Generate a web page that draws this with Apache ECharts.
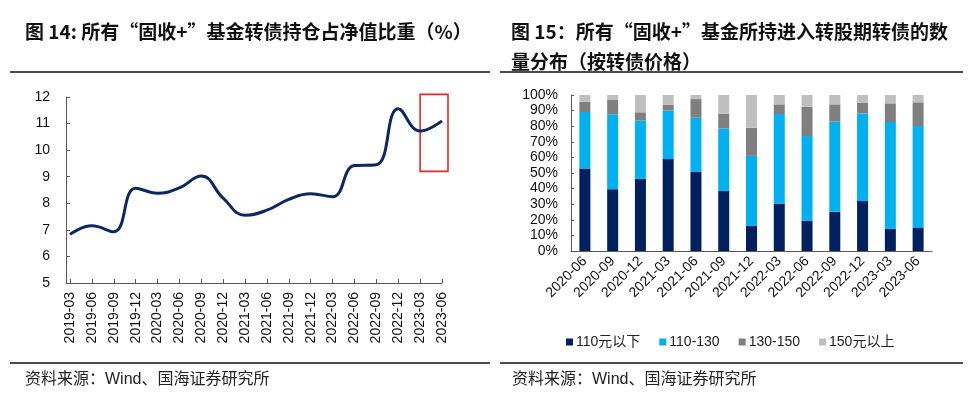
<!DOCTYPE html>
<html>
<head>
<meta charset="utf-8">
<script src="https://cdn.jsdelivr.net/npm/echarts@6/dist/echarts.min.js"></script>
<style>
html,body{margin:0;padding:0;background:#fff;}
#c{width:974px;height:399px;}
</style>
</head>
<body>
<div id="c"></div>
<script>
// ---- Data: Figure 14 ----
const lineCategories = ['2019-03','2019-06','2019-09','2019-12','2020-03','2020-06','2020-09','2020-12','2021-03','2021-06','2021-09','2021-12','2022-03','2022-06','2022-09','2022-12','2023-03','2023-06'];
const lineValues = [6.83, 7.15, 6.93, 8.57, 8.38, 8.58, 9.03, 8.19, 7.55, 7.74, 8.15, 8.36, 8.25, 9.42, 9.45, 11.56, 10.72, 11.1];
const lineYTicks = [5, 6, 7, 8, 9, 10, 11, 12];

// ---- Data: Figure 15 ----
const barCategories = ['2020-06','2020-09','2020-12','2021-03','2021-06','2021-09','2021-12','2022-03','2022-06','2022-09','2022-12','2023-03','2023-06'];
const seriesNames = ['110元以下', '110-130', '130-150', '150元以上'];
const below110 = [52.9, 39.6, 46.3, 58.9, 50.7, 38.5, 16.1, 30.4, 19.5, 25.1, 32.1, 14.3, 14.8];
const r110to130 = [36.2, 48.0, 37.4, 31.2, 34.7, 40.1, 44.9, 57.4, 54.2, 57.8, 56.1, 68.4, 65.3];
const r130to150 = [6.6, 9.2, 5.2, 3.7, 12.0, 9.4, 18.0, 6.2, 18.8, 11.1, 6.9, 11.9, 15.2];
const above150 = [4.3, 3.2, 11.1, 6.2, 2.6, 12.0, 21.0, 6.0, 7.5, 6.0, 4.9, 5.4, 4.7];

const FONT = '"Liberation Sans", Arial, "Noto Sans CJK SC", sans-serif';
const MIXED = '"Liberation Sans", "Noto Sans CJK SC", sans-serif';
const CJK = '"Noto Sans CJK SC", "Liberation Sans", sans-serif';
const axisColor = '#595959';
const barColors = ['#002060', '#00b0f0', '#7f7f7f', '#bfbfbf'];

const chart = echarts.init(document.getElementById('c'), null, {renderer: 'canvas'});

const option = {
  animation: false,
  backgroundColor: '#fff',
  title: [
    {text: '图 14: 所有“固收+”基金转债持仓占净值比重（%）', left: 20, top: 17,
     textStyle: {fontFamily: CJK, fontSize: 19, fontWeight: 'bold', color: '#111'}},
    {text: '图 15：所有“固收+”基金所持进入转股期转债的数\n量分布（按转债价格）', left: 506, top: 12,
     textStyle: {fontFamily: CJK, fontSize: 19, fontWeight: 'bold', color: '#111', lineHeight: 30}},
    {text: '资料来源：Wind、国海证券研究所', left: 20, top: 367,
     textStyle: {fontFamily: MIXED, fontSize: 16, fontWeight: 'normal', color: '#222'}},
    {text: '资料来源：Wind、国海证券研究所', left: 507, top: 367,
     textStyle: {fontFamily: MIXED, fontSize: 16, fontWeight: 'normal', color: '#222'}}
  ],
  legend: {
    data: seriesNames,
    left: 561, top: 330,
    icon: 'rect', itemWidth: 7, itemHeight: 7, itemGap: 19,
    textStyle: {fontFamily: MIXED, fontSize: 14, color: '#222', padding: [0, 0, 0, -2]}
  },
  grid: [
    {left: 70, right: 974 - 442, top: 97, bottom: 399 - 283, containLabel: false},
    {left: 571, right: 974 - 932, top: 95, bottom: 399 - 251, containLabel: false}
  ],
  xAxis: [
    {type: 'category', gridIndex: 0, data: lineCategories, boundaryGap: false,
     axisLine: {lineStyle: {color: axisColor, width: 1}},
     axisTick: {inside: true, length: 4, lineStyle: {color: axisColor}},
     axisLabel: {rotate: 90, margin: 9, interval: 0, fontFamily: FONT, fontSize: 14, color: '#111'}},
    {type: 'category', gridIndex: 1, data: barCategories,
     axisLine: {lineStyle: {color: axisColor, width: 1}},
     axisTick: {inside: true, length: 4, lineStyle: {color: axisColor}},
     axisLabel: {rotate: 45, margin: 8, interval: 0, fontFamily: FONT, fontSize: 14, color: '#111'}}
  ],
  yAxis: [
    {type: 'value', gridIndex: 0, min: lineYTicks[0], max: lineYTicks[lineYTicks.length - 1], interval: 1,
     offset: 4,
     splitLine: {show: false},
     axisLine: {show: true, lineStyle: {color: axisColor, width: 1}},
     axisTick: {show: true, inside: true, length: 4, lineStyle: {color: axisColor}},
     axisLabel: {margin: 16, fontFamily: FONT, fontSize: 14, color: '#111'}},
    {type: 'value', gridIndex: 1, min: 0, max: 100, interval: 10,
     splitLine: {show: false},
     axisLine: {show: true, lineStyle: {color: axisColor, width: 1}},
     axisTick: {show: true, inside: true, length: 3, lineStyle: {color: axisColor}},
     axisLabel: {margin: 13, fontFamily: FONT, fontSize: 14, color: '#111', formatter: '{value}%'}}
  ],
  series: [
    {type: 'line', xAxisIndex: 0, yAxisIndex: 0, data: lineValues, smooth: 0.45,
     symbol: 'none', lineStyle: {color: '#0d2763', width: 3}},
    {name: seriesNames[0], type: 'bar', stack: 'p', xAxisIndex: 1, yAxisIndex: 1, data: below110, barWidth: 11, itemStyle: {color: barColors[0]}},
    {name: seriesNames[1], type: 'bar', stack: 'p', xAxisIndex: 1, yAxisIndex: 1, data: r110to130, barWidth: 11, itemStyle: {color: barColors[1]}},
    {name: seriesNames[2], type: 'bar', stack: 'p', xAxisIndex: 1, yAxisIndex: 1, data: r130to150, barWidth: 11, itemStyle: {color: barColors[2]}},
    {name: seriesNames[3], type: 'bar', stack: 'p', xAxisIndex: 1, yAxisIndex: 1, data: above150, barWidth: 11, itemStyle: {color: barColors[3]}}
  ]
};
chart.setOption(option);

// Decorations: rules, highlight box
const p1 = chart.convertToPixel({gridIndex: 0}, ['2023-03', 12.1]);
const p2 = chart.convertToPixel({gridIndex: 0}, ['2023-06', 9.2]);
chart.setOption({
  graphic: [
    {type: 'line', shape: {x1: 10, y1: 72, x2: 490, y2: 72}, style: {stroke: '#111', lineWidth: 1.5}},
    {type: 'line', shape: {x1: 500, y1: 72, x2: 963, y2: 72}, style: {stroke: '#111', lineWidth: 1.5}},
    {type: 'line', shape: {x1: 10, y1: 363, x2: 490, y2: 363}, style: {stroke: '#111', lineWidth: 1.5}},
    {type: 'line', shape: {x1: 500, y1: 363, x2: 963, y2: 363}, style: {stroke: '#111', lineWidth: 1.5}},
    {type: 'rect', shape: {x: p1[0], y: p1[1], width: (p2[0] - p1[0]) + 6, height: p2[1] - p1[1]},
     style: {fill: 'none', stroke: '#e3262b', lineWidth: 1.6}}
  ]
});
</script>
</body>
</html>
